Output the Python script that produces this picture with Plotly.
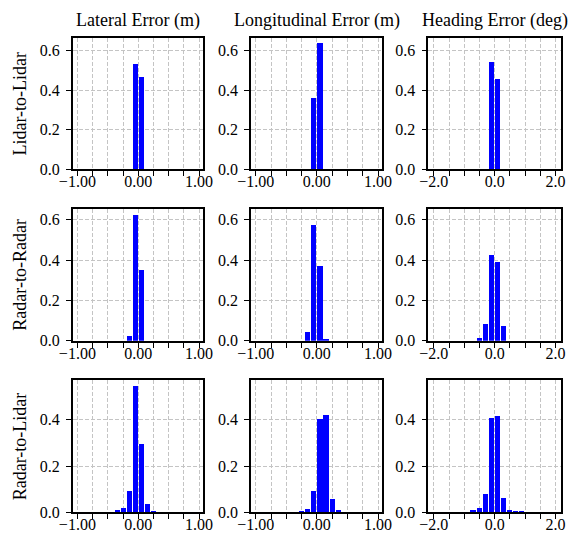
import plotly.graph_objects as go

# ---------------- data ----------------
col_titles = ["Lateral Error (m)", "Longitudinal Error (m)", "Heading Error (deg)"]
row_titles = ["Lidar-to-Lidar", "Radar-to-Radar", "Radar-to-Lidar"]

# Lidar-to-Lidar
ll_lat_x = [-0.05, 0.05]
ll_lat_y = [0.532, 0.466]
ll_lon_x = [-0.05, 0.05]
ll_lon_y = [0.361, 0.638]
ll_head_x = [-0.1, 0.1]
ll_head_y = [0.541, 0.455]

# Radar-to-Radar
rr_lat_x = [-0.15, -0.05, 0.05]
rr_lat_y = [0.023, 0.627, 0.350]
rr_lon_x = [-0.15, -0.05, 0.05, 0.15]
rr_lon_y = [0.043, 0.578, 0.374, 0.006]
rr_head_x = [-0.5, -0.3, -0.1, 0.1, 0.3]
rr_head_y = [0.013, 0.082, 0.429, 0.394, 0.074]

# Radar-to-Lidar
rl_lat_x = [-0.35, -0.25, -0.15, -0.05, 0.05, 0.15, 0.25]
rl_lat_y = [0.008, 0.019, 0.092, 0.546, 0.295, 0.036, 0.004]
rl_lon_x = [-0.25, -0.15, -0.05, 0.05, 0.15, 0.25, 0.35]
rl_lon_y = [0.003, 0.013, 0.092, 0.402, 0.420, 0.058, 0.009]
rl_head_x = [-0.7, -0.5, -0.3, -0.1, 0.1, 0.3, 0.5, 0.7, 0.9]
rl_head_y = [0.008, 0.018, 0.079, 0.407, 0.415, 0.062, 0.008, 0.003, 0.002]

m_tickvals = [-1.0, -0.75, -0.5, -0.25, 0.0, 0.25, 0.5, 0.75, 1.0]
m_ticktext = ["\u22121.00", "", "", "", "0.00", "", "", "", "1.00"]
d_tickvals = [-2.0, -1.5, -1.0, -0.5, 0.0, 0.5, 1.0, 1.5, 2.0]
d_ticktext = ["\u22122.0", "", "", "", "0.0", "", "", "", "2.0"]

y_tickvals = [0.0, 0.2, 0.4, 0.6]
y_ticktext = ["0.0", "0.2", "0.4", "0.6"]
row_ymax = [0.664, 0.655, 0.571]

panels = [
    [(ll_lat_x, ll_lat_y), (ll_lon_x, ll_lon_y), (ll_head_x, ll_head_y)],
    [(rr_lat_x, rr_lat_y), (rr_lon_x, rr_lon_y), (rr_head_x, rr_head_y)],
    [(rl_lat_x, rl_lat_y), (rl_lon_x, rl_lon_y), (rl_head_x, rl_head_y)],
]

# ---------------- layout geometry ----------------
W, H = 571, 540
col_px = [(72.7, 203.3), (251.0, 382.3), (428.3, 561.0)]
row_px = [(37.7, 169.3), (208.7, 340.7), (380.3, 512.3)]
FONT = "Liberation Serif, Times New Roman, serif"


def fx(px):
    return px / W


def fy(py):
    return 1 - py / H


fig = go.Figure()
layout = dict(
    width=W, height=H,
    margin=dict(l=0, r=0, t=0, b=0, autoexpand=False),
    paper_bgcolor="white", plot_bgcolor="white",
    showlegend=False,
    font=dict(family=FONT, size=16, color="black"),
    bargap=0,
)

grid_color = "#c4c4c4"
annotations = []
k = 0
for r in range(3):
    for c in range(3):
        k += 1
        xs, ys = panels[r][c]
        xa = "x" if k == 1 else f"x{k}"
        ya = "y" if k == 1 else f"y{k}"
        width = 0.17 if c == 2 else 0.085
        fig.add_trace(go.Bar(x=xs, y=ys, xaxis=xa, yaxis=ya,
                             width=[width] * len(xs),
                             marker=dict(color="#0000ff", line=dict(width=0))))
        x0, x1 = col_px[c]
        y0, y1 = row_px[r]
        if c == 2:
            xr = [-2.18, 2.18]
            tv, tt = d_tickvals, d_ticktext
        else:
            xr = [-1.077, 1.07]
            tv, tt = m_tickvals, m_ticktext
        xkey = "xaxis" if k == 1 else f"xaxis{k}"
        ykey = "yaxis" if k == 1 else f"yaxis{k}"
        layout[xkey] = dict(
            domain=[fx(x0), fx(x1)], anchor=ya, range=xr, automargin=False,
            tickvals=tv, ticktext=tt, ticks="outside", ticklen=5, tickwidth=1.3,
            tickcolor="black", showline=True, linecolor="black", linewidth=1.6,
            mirror=True, showgrid=True, gridcolor=grid_color, gridwidth=1,
            griddash="4px,2px", zeroline=False,
            tickfont=dict(family=FONT, size=16, color="black"),
            ticklabelstandoff=-8,
            fixedrange=True,
        )
        nt = 3 if r == 2 else 4
        layout[ykey] = dict(
            domain=[fy(y1), fy(y0)], anchor=xa, range=[0, row_ymax[r]],
            automargin=False,
            tickvals=y_tickvals[:nt], ticktext=y_ticktext[:nt], ticks="outside",
            ticklen=5, tickwidth=1.3, tickcolor="black", showline=True,
            linecolor="black", linewidth=1.6, mirror=True, showgrid=True,
            gridcolor=grid_color, gridwidth=1, griddash="4px,2px", zeroline=False,
            tickfont=dict(family=FONT, size=16, color="black"), ticklabelstandoff=3,
            fixedrange=True,
        )

for c in range(3):
    x0, x1 = col_px[c]
    annotations.append(dict(text=col_titles[c], x=fx((x0 + x1) / 2), y=fy(21),
                            xref="paper", yref="paper", showarrow=False,
                            xanchor="center", yanchor="middle",
                            font=dict(family=FONT, size=18, color="black")))
for r in range(3):
    y0, y1 = row_px[r]
    annotations.append(dict(text=row_titles[r], x=fx(20), y=fy((y0 + y1) / 2),
                            xref="paper", yref="paper", showarrow=False,
                            textangle=-90, xanchor="center", yanchor="middle",
                            font=dict(family=FONT, size=18, color="black")))
layout["annotations"] = annotations
fig.update_layout(**layout)
fig.write_html(
    "out.html",
    config={"displayModeBar": False},
    post_script="document.body.style.margin='0px';"
                "document.documentElement.style.overflow='hidden';",
)
